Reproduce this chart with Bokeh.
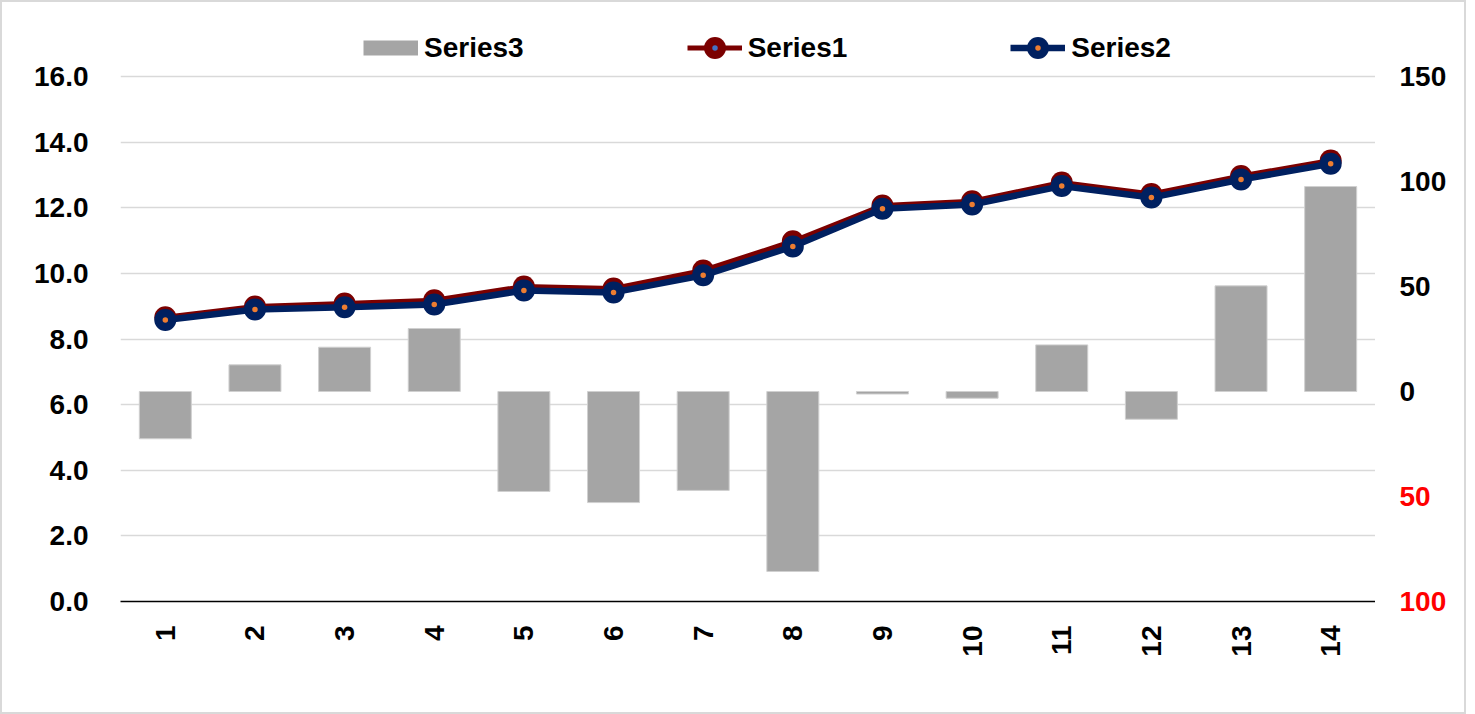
import math
from bokeh.plotting import figure
from bokeh.layouts import row
from bokeh.core.properties import value
from bokeh.models import (Range1d, FixedTicker, NumeralTickFormatter,
                          Legend, LegendItem, ColumnDataSource)
from bokeh.embed import file_html
from bokeh.resources import INLINE

categories = [str(i) for i in range(1, 15)]
series1 = [8.66, 8.99, 9.08, 9.18, 9.60, 9.54, 10.09, 10.98, 12.07, 12.20, 12.77, 12.42, 12.97, 13.44]
series2 = [8.58, 8.90, 8.97, 9.05, 9.48, 9.42, 9.94, 10.82, 11.97, 12.10, 12.66, 12.31, 12.86, 13.34]
series3 = [-22.5, 12.7, 21.1, 30.0, -47.6, -52.9, -47.1, -85.7, -1.2, -3.2, 22.2, -13.2, 50.3, 97.6]
left_ticks = [0, 2, 4, 6, 8, 10, 12, 14, 16]
right_ticks = [150, 100, 50, 0, -50, -100]

FONT = "Liberation Sans"

# layout geometry (pixels)
H = 710
FRAME_TOP_PAD = 8          # frame extends above the 16.0 line to host the legend
FRAME_BOTTOM_PAD = 111
PX_ABOVE_TOP_TICK = 66     # frame pixels above the top tick line
PLOT_PX = 525              # pixels between 0.0 and 16.0

left_lo, left_hi = 0, 16
right_lo, right_hi = -100, 150
left_top = left_hi + PX_ABOVE_TOP_TICK * (left_hi - left_lo) / PLOT_PX
right_top = right_hi + PX_ABOVE_TOP_TICK * (right_hi - right_lo) / PLOT_PX
right_bottom_ext = right_lo - FRAME_BOTTOM_PAD * (right_hi - right_lo) / PLOT_PX

p = figure(x_range=categories, y_range=Range1d(left_lo, left_top), width=1373, height=H,
           output_backend="svg", toolbar_location=None,
           min_border_left=118, min_border_right=0, min_border_top=FRAME_TOP_PAD,
           min_border_bottom=FRAME_BOTTOM_PAD)
p.frame_align = False
p.x_range.range_padding = 0
p.extra_y_ranges = {"right": Range1d(right_lo, right_top)}
p.outline_line_color = None

src = ColumnDataSource(dict(x=categories, s1=series1, s2=series2, s3=series3))

bars = p.vbar(x="x", top="s3", bottom=0, width=0.58, source=src, y_range_name="right",
              fill_color="#a5a5a5", line_color="#d0d0d0", line_width=1)
# legend swatch for the bars (not drawn in the plot itself)
bar_key = p.line("x", "s3", source=src, y_range_name="right", line_color="#a5a5a5",
                 line_width=15, line_cap="butt", visible=False)

l1 = p.line("x", "s1", source=src, line_color="#7b0000", line_width=5)
c1 = p.scatter("x", "s1", source=src, size=22, fill_color="#7b0000", line_color=None)
d1 = p.scatter("x", "s1", source=src, size=22, marker="dot", line_color="#4472c4", fill_color="#4472c4")
l2 = p.line("x", "s2", source=src, line_color="#002060", line_width=6.5)
c2 = p.scatter("x", "s2", source=src, size=22, fill_color="#002060", line_color=None)
d2 = p.scatter("x", "s2", source=src, size=22, marker="dot", line_color="#ed7d31", fill_color="#ed7d31")

p.yaxis.ticker = FixedTicker(ticks=left_ticks)
p.yaxis.formatter = NumeralTickFormatter(format="0.0")
p.yaxis.axis_line_color = None
p.yaxis.major_tick_line_color = None
p.yaxis.minor_tick_line_color = None
p.yaxis.major_label_text_font = FONT
p.yaxis.major_label_text_font_style = "bold"
p.yaxis.major_label_text_font_size = "28px"
p.yaxis.major_label_text_color = "black"
p.yaxis.major_label_standoff = 26

p.xaxis.axis_line_color = "black"
p.xaxis.axis_line_width = 1.5
p.xaxis.major_tick_line_color = None
p.xaxis.minor_tick_line_color = None
p.xaxis.major_label_orientation = math.pi / 2
p.xaxis.major_label_text_font = FONT
p.xaxis.major_label_text_font_style = "bold"
p.xaxis.major_label_text_font_size = "28px"
p.xaxis.major_label_text_color = "black"
p.xaxis.major_label_standoff = 18

p.xgrid.grid_line_color = None
p.ygrid.grid_line_color = "#d9d9d9"
p.ygrid.grid_line_width = 1.5

legend = Legend(items=[
    LegendItem(label="Series3", renderers=[bar_key]),
    LegendItem(label="Series1", renderers=[l1, c1, d1]),
    LegendItem(label="Series2", renderers=[l2, c2, d2]),
], orientation="horizontal", location=(243, 526))
legend.label_text_font = FONT
legend.label_text_font_style = "bold"
legend.label_text_font_size = "28px"
legend.label_text_color = "black"
legend.glyph_width = 55
legend.glyph_height = 55
legend.label_standoff = 6
legend.spacing = 163
legend.padding = 0
legend.margin = 0
legend.border_line_color = None
legend.background_fill_alpha = 0
p.add_layout(legend, "center")

# right-hand value axis (secondary scale): labels drawn on the same secondary range
side = figure(x_range=Range1d(0, 1), y_range=Range1d(right_bottom_ext, right_top), width=89, height=H,
              output_backend="svg", toolbar_location=None, x_axis_type=None, y_axis_type=None,
              min_border_left=0, min_border_right=0, min_border_top=FRAME_TOP_PAD,
              min_border_bottom=0)
side.frame_align = False
side.outline_line_color = None
side.xgrid.grid_line_color = None
side.ygrid.grid_line_color = None
rsrc = ColumnDataSource(dict(
    x=[0] * len(right_ticks), y=right_ticks,
    label=[str(abs(t)) for t in right_ticks],
    color=["red" if t < 0 else "black" for t in right_ticks]))
side.text(x="x", y="y", text="label", source=rsrc, text_color="color", x_offset=24,
          text_font=value(FONT), text_font_style="bold", text_font_size="28px",
          text_baseline="middle", text_align="left")

layout = row(p, side, spacing=0)
layout.styles = {"border": "2px solid #d9d9d9"}

open("out.html", "w").write(file_html(layout, INLINE))
